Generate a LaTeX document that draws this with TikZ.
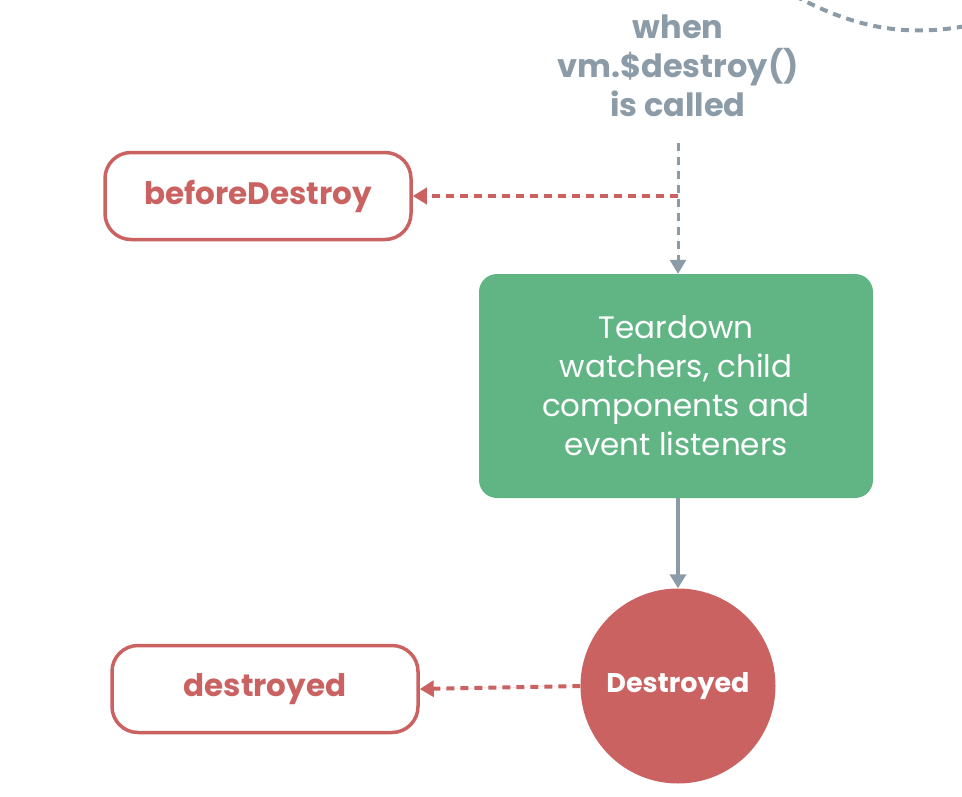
\documentclass[tikz,border=0pt]{standalone}
\usepackage{fontspec}
\setmainfont{Poppins}
\usepackage{xcolor}
\usetikzlibrary{shapes,arrows.meta,positioning,calc}
\definecolor{hookred}{HTML}{CB6262}
\definecolor{stepgreen}{HTML}{61B585}
\definecolor{flowgrey}{HTML}{8B9BA7}
\begin{document}
\begin{tikzpicture}[x=1pt, y=-1pt]
    % Define styles
    \tikzstyle{hook} = [rectangle, draw=hookred, line width=3.5pt, fill=white, rounded corners=26pt, minimum width=306pt, minimum height=87pt, text=hookred, font=\fontsize{31}{36}\selectfont\bfseries]
    \tikzstyle{task} = [rectangle, fill=stepgreen, rounded corners=18pt, minimum width=394pt, minimum height=224pt, text=white, align=center, font=\fontsize{31}{39}\selectfont]
    \tikzstyle{state} = [circle, fill=hookred, minimum size=195pt, inner sep=0pt, text=white, font=\fontsize{27}{32}\selectfont\bfseries]
    \tikzstyle{event} = [text=flowgrey, align=center, font=\fontsize{32}{39}\selectfont\bfseries]
    \tikzstyle{hookarrow} = [-{Triangle[width=16pt, length=14pt]}, draw=hookred, fill=hookred, line width=4pt, dash pattern=on 8pt off 6pt]
    \tikzstyle{flowarrow} = [-{Triangle[width=16pt, length=14pt]}, draw=flowgrey, fill=flowgrey, line width=3pt]

    \useasboundingbox (0,0) rectangle (962,796);

    % Nodes
    \node[event] (called) at (678,66) {when\\vm.\$destroy()\\is called};
    \node[hook] (beforedestroy) at (258,196) {beforeDestroy};
    \node[task] (teardown) at (676,386) {Teardown\\watchers, child\\components and\\event listeners};
    \node[state] (destroyedstate) at (678,686) {Destroyed};
    \node[hook] (destroyed) at (265,689) {destroyed};
    \coordinate (branch) at (678,196);

    % Connectors
    \draw[flowarrow, dash pattern=on 8pt off 6pt] (678,143) -- (teardown.north -| branch);
    \draw[hookarrow] (branch) -- (beforedestroy.east);
    \draw[flowarrow, line width=4pt] (teardown.south -| destroyedstate) -- (destroyedstate.north);
    \draw[hookarrow] (destroyedstate.west) -- (destroyed.east);

    % Loop back from above
    \draw[flowgrey, line width=4pt, dash pattern=on 8pt off 6pt] (795,-4) .. controls (850,25) and (900,38) .. (966,26);
\end{tikzpicture}
\end{document}
